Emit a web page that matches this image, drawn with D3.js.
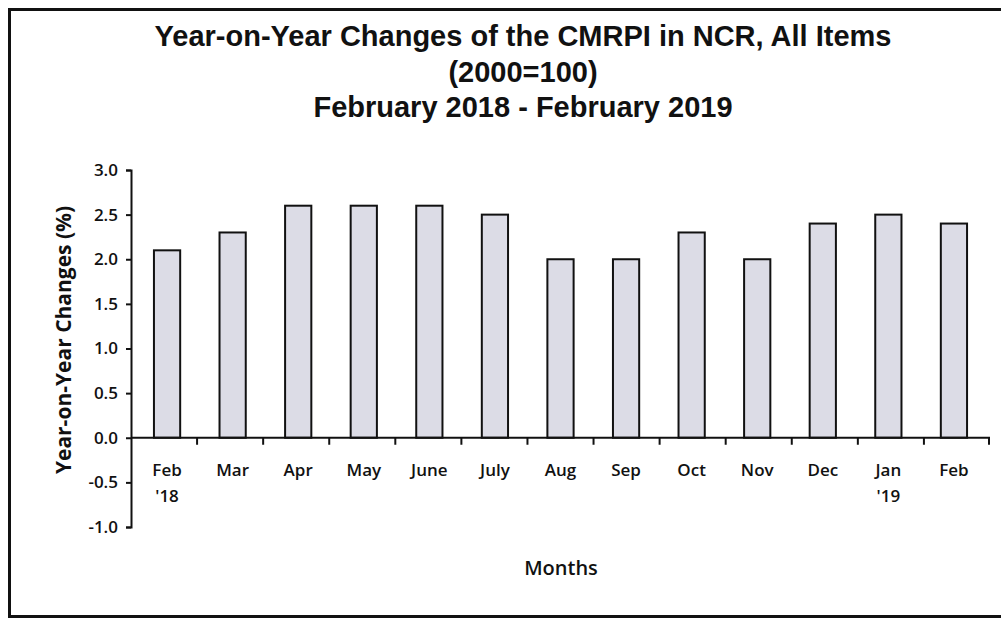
<!DOCTYPE html>
<html lang="en">
<head>
  <meta charset="utf-8">
  <title>CMRPI NCR</title>
  <script src="https://cdnjs.cloudflare.com/ajax/libs/d3/7.8.5/d3.min.js"></script>
  <style>
    body { margin: 0; background: #fff; }
    .title { font-family: "Liberation Sans", Arial, sans-serif; font-weight: bold; font-size: 29px; fill: #111; }
    .tick text { font-family: "Open Sans", Lato, sans-serif; font-weight: 600; fill: #111; }
    .axis-label { font-family: "Open Sans", Lato, sans-serif; fill: #111; }
  </style>
</head>
<body>
  <svg id="svg" width="1001" height="619"></svg>
  <script>
    // data
    var months = ["Feb\n'18", "Mar", "Apr", "May", "June", "July", "Aug", "Sep", "Oct", "Nov", "Dec", "Jan\n'19", "Feb"];
    var values = [2.1, 2.3, 2.6, 2.6, 2.6, 2.5, 2.0, 2.0, 2.3, 2.0, 2.4, 2.5, 2.4];
    var yTicks = [-1.0, -0.5, 0.0, 0.5, 1.0, 1.5, 2.0, 2.5, 3.0];
    var titleLines = ["Year-on-Year Changes of the CMRPI in NCR, All Items", "(2000=100)", "February 2018 - February 2019"];

    var svg = d3.select("#svg");
    var margin = { top: 170, right: 11, bottom: 92, left: 131 },
      width = 859,
      height = 357;

    // outer frame
    svg.append("rect")
      .attr("x", 9.5).attr("y", 9.5)
      .attr("width", 1000).attr("height", 607)
      .attr("fill", "none").attr("stroke", "#111").attr("stroke-width", 3);

    // title
    var titleY = [46, 82, 117];
    svg.selectAll(".title").data(titleLines).enter().append("text")
      .attr("class", "title")
      .attr("x", 523).attr("y", function (d, i) { return titleY[i]; })
      .attr("text-anchor", "middle")
      .text(function (d) { return d; });

    var g = svg.append("g").attr("transform", "translate(" + margin.left + "," + margin.top + ")");

    var xScale = d3.scaleBand().domain(d3.range(months.length)).range([0, width]).paddingInner(0.6).paddingOuter(0.35);
    var yScale = d3.scaleLinear().domain([-1, 3]).range([height, 0]);

    // bars
    g.selectAll(".bar").data(values).enter().append("rect")
      .attr("class", "bar")
      .attr("x", function (d, i) { return xScale(i); })
      .attr("width", xScale.bandwidth())
      .attr("y", function (d) { return yScale(d); })
      .attr("height", function (d) { return yScale(0) - yScale(d); })
      .attr("fill", "#dcdce6")
      .attr("stroke", "#111")
      .attr("stroke-width", 2);

    // y axis
    var yAxis = g.append("g")
      .call(d3.axisLeft(yScale).tickValues(yTicks)
        .tickFormat(function (d) { return d.toFixed(1); })
        .tickSize(5).tickPadding(8));
    yAxis.select(".domain").attr("stroke", "#111").attr("stroke-width", 2);
    yAxis.selectAll(".tick line").attr("stroke", "#111").attr("stroke-width", 2);
    yAxis.selectAll(".tick text").style("font-size", "17px");

    // x axis along zero, ticks between categories
    var zeroY = yScale(0);
    var xAxis = g.append("g").attr("transform", "translate(0," + zeroY + ")");
    xAxis.append("line").attr("x1", 0).attr("x2", width).attr("stroke", "#111").attr("stroke-width", 2);
    xAxis.selectAll(".sep").data(d3.range(1, months.length + 1)).enter().append("line")
      .attr("x1", function (d) { return Math.min(d * width / months.length, width - 1); })
      .attr("x2", function (d) { return Math.min(d * width / months.length, width - 1); })
      .attr("y1", 0).attr("y2", 7)
      .attr("stroke", "#111").attr("stroke-width", 2);

    var labels = xAxis.selectAll(".xl").data(months).enter().append("text")
      .attr("class", "axis-label")
      .attr("x", function (d, i) { return xScale(i) + xScale.bandwidth() / 2; })
      .attr("y", 38)
      .attr("text-anchor", "middle")
      .style("font-size", "17px").style("font-weight", 600);
    labels.each(function (d) {
      var parts = d.split("\n");
      var t = d3.select(this);
      parts.forEach(function (p, k) {
        t.append("tspan").attr("x", t.attr("x")).attr("dy", k === 0 ? 0 : 26).text(p);
      });
    });

    // axis titles
    svg.append("text").attr("class", "axis-label")
      .attr("x", 561).attr("y", 575)
      .attr("text-anchor", "middle")
      .style("font-size", "20px").style("font-weight", 600)
      .text("Months");

    svg.append("text").attr("class", "axis-label")
      .attr("transform", "translate(71,340) rotate(-90)")
      .attr("text-anchor", "middle")
      .style("font-size", "21px").style("font-weight", "bold")
      .text("Year-on-Year Changes (%)");
  </script>
</body>
</html>
